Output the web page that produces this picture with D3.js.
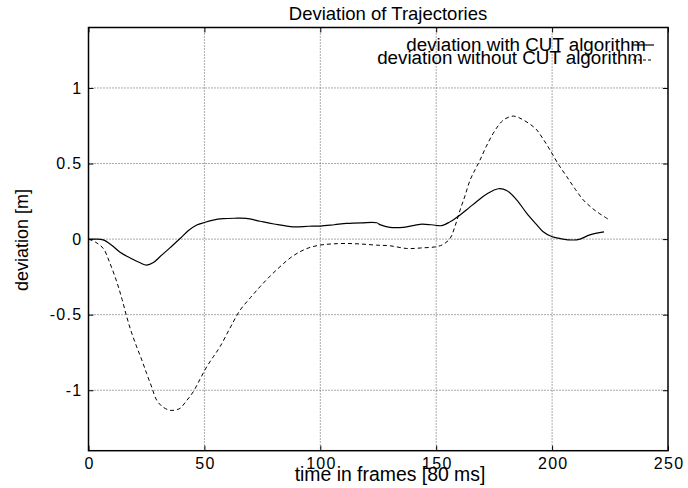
<!DOCTYPE html>
<html><head><meta charset="utf-8">
<script src="https://cdn.jsdelivr.net/npm/d3@7"></script>
<style>body{margin:0;background:#fff}svg{display:block}text{font-family:"Liberation Sans",Arial,sans-serif;fill:#000}</style>
</head><body><svg id="c" width="688" height="488"></svg>
<script>
const xTicks = [0, 50, 100, 150, 200, 250];
const yTicks = [-1, -0.5, 0, 0.5, 1];
const seriesNames = ["deviation with CUT algorithm", "deviation without CUT algorithm"];
const framesWith = [0, 3, 6.3, 10, 13.6, 18, 22, 25.1, 28, 30.8, 35, 39.5, 43, 46.7, 50, 53.8, 58, 63, 68, 74, 80, 88.3, 95, 100, 106, 111.4, 118, 124.3, 126, 130, 135.8, 143, 148, 152.4, 156, 160.3, 164, 167.5, 172, 176.8, 180.4, 184.7, 189, 193.4, 196, 199.8, 204, 209.1, 212, 216.3, 222.4];
const devWith = [0, 0, -0.005, -0.04, -0.087, -0.125, -0.155, -0.172, -0.155, -0.117, -0.06, 0.004, 0.055, 0.093, 0.11, 0.126, 0.135, 0.138, 0.137, 0.118, 0.1, 0.081, 0.085, 0.086, 0.095, 0.104, 0.108, 0.108, 0.094, 0.078, 0.078, 0.098, 0.095, 0.089, 0.115, 0.16, 0.205, 0.249, 0.3, 0.333, 0.322, 0.26, 0.172, 0.094, 0.05, 0.017, 0.002, -0.006, 0, 0.028, 0.048];
const framesWithout = [0, 3, 6.4, 9, 12.2, 14.5, 16.5, 18.5, 20.8, 23, 25.1, 27.3, 29.4, 32, 35.2, 37.5, 39.5, 42, 45.2, 48, 51, 54, 56.7, 61, 65.4, 70, 74, 78, 82.6, 87, 91.2, 95, 99.8, 105, 111.4, 118, 124.3, 130, 137.3, 144, 150.2, 153, 156, 158, 160.3, 162.5, 164.6, 166.8, 168.9, 171.5, 174.6, 177, 179, 181, 183.3, 185.5, 187.6, 190.5, 193.4, 196, 199.1, 202.5, 206.3, 210, 213.4, 216.5, 219.2, 224.2];
const devWithout = [0, -0.02, -0.062, -0.15, -0.283, -0.4, -0.514, -0.615, -0.713, -0.8, -0.89, -0.98, -1.066, -1.11, -1.133, -1.13, -1.12, -1.075, -1.01, -0.93, -0.845, -0.775, -0.713, -0.59, -0.47, -0.385, -0.315, -0.25, -0.183, -0.125, -0.084, -0.058, -0.04, -0.032, -0.029, -0.033, -0.04, -0.044, -0.062, -0.058, -0.05, -0.035, 0.004, 0.08, 0.192, 0.29, 0.39, 0.46, 0.523, 0.61, 0.7, 0.755, 0.788, 0.805, 0.814, 0.805, 0.788, 0.76, 0.722, 0.665, 0.59, 0.5, 0.414, 0.33, 0.26, 0.215, 0.182, 0.132];

const svg = d3.select("#c");
const L = 88.5, R = 668, T = 27.5, B = 450.7;
const x = d3.scaleLinear().domain([0, 250]).range([L, R]);
const y = d3.scaleLinear().domain([-1.4, 1.4]).range([B, T]);

// grid
svg.append("g").selectAll("line").data(xTicks.filter(d => d > 0 && d < 250)).join("line")
  .attr("x1", d => x(d)).attr("x2", d => x(d)).attr("y1", T).attr("y2", B)
  .attr("stroke", "#555").attr("stroke-width", 1).attr("stroke-dasharray", "1,2");
svg.append("g").selectAll("line").data(yTicks).join("line")
  .attr("y1", d => y(d)).attr("y2", d => y(d)).attr("x1", L).attr("x2", R)
  .attr("stroke", "#555").attr("stroke-width", 1).attr("stroke-dasharray", "1,2");

// axes with inward ticks
const ax = d3.axisBottom(x).tickValues(xTicks).tickSize(-5).tickFormat(d => String(d));
const gx = svg.append("g").attr("transform", `translate(0,${B})`).call(ax);
svg.append("g").attr("transform", `translate(0,${T})`).call(d3.axisTop(x).tickValues(xTicks).tickSize(-5).tickFormat(""));
const ay = d3.axisLeft(y).tickValues(yTicks).tickSize(-5).tickFormat(d => String(d));
const gy = svg.append("g").attr("transform", `translate(${L},0)`).call(ay);
svg.append("g").attr("transform", `translate(${R},0)`).call(d3.axisRight(y).tickValues(yTicks).tickSize(-5).tickFormat(""));
svg.selectAll(".domain").remove();
svg.selectAll(".tick line").attr("stroke", "#000");
gx.selectAll("text").attr("font-size", 16).attr("letter-spacing", "1.3px").attr("font-family", "Liberation Sans")
  .attr("y", 7).attr("dy", "0.71em").attr("dx", "0.65px").attr("fill", "#000");
gy.selectAll("text").attr("font-size", 16).attr("letter-spacing", "1.3px").attr("font-family", "Liberation Sans")
  .attr("x", -6).attr("fill", "#000");

// frame
svg.append("rect").attr("x", L).attr("y", T).attr("width", R - L).attr("height", B - T)
  .attr("fill", "none").attr("stroke", "#000").attr("stroke-width", 1.5);

// lines
const line = d3.line().x(d => x(d[0])).y(d => y(d[1])).curve(d3.curveCatmullRom);
svg.append("path").datum(d3.zip(framesWith, devWith)).attr("d", line)
  .attr("fill", "none").attr("stroke", "#000").attr("stroke-width", 1.2);
svg.append("path").datum(d3.zip(framesWithout, devWithout)).attr("d", line)
  .attr("fill", "none").attr("stroke", "#000").attr("stroke-width", 1).attr("stroke-dasharray", "4,3");

// legend
svg.append("text").attr("x", 646).attr("y", 51).attr("text-anchor", "end").attr("font-size", 18.8).text(seriesNames[0]);
svg.append("text").attr("x", 643).attr("y", 64).attr("text-anchor", "end").attr("font-size", 18.8).text(seriesNames[1]);
svg.append("line").attr("x1", 632).attr("x2", 654).attr("y1", 45).attr("y2", 45).attr("stroke", "#000").attr("stroke-width", 1.2);
svg.append("line").attr("x1", 633).attr("x2", 653).attr("y1", 60).attr("y2", 60).attr("stroke", "#000").attr("stroke-width", 1).attr("stroke-dasharray", "3,2");

// title and labels
svg.append("text").attr("x", 388).attr("y", 20).attr("text-anchor", "middle").attr("font-size", 18.5).text("Deviation of Trajectories");
svg.append("text").attr("x", 390).attr("y", 481).attr("text-anchor", "middle").attr("font-size", 19.4).text("time in frames [80 ms]");
svg.append("text").attr("transform", `translate(28,240) rotate(-90)`).attr("text-anchor", "middle").attr("font-size", 18).text("deviation [m]");
</script></body></html>
